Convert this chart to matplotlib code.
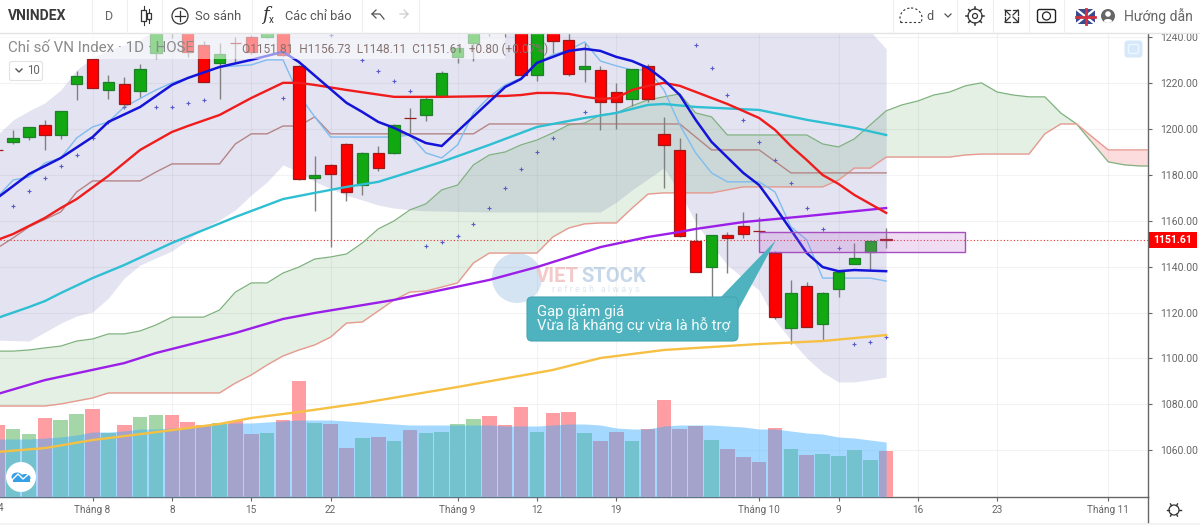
# VNINDEX daily chart with ichimoku cloud, moving averages and volume

import numpy as np
import matplotlib
matplotlib.use('Agg')
import matplotlib.pyplot as plt
from matplotlib.patches import Circle, Ellipse, FancyBboxPatch, Polygon, Rectangle

plt.rcParams['font.family'] = ['Roboto', 'DejaVu Sans']

# candles, one entry per trading day
opens = [1190.9, 1194.3, 1196.4, 1201.7, 1197.3, 1219.5, 1230.4, 1216.9, 1219.5, 1216.5,
         1233.0, 1248.0, 1243.0, 1236.5, 1228.7, 1237.5, 1240.0, 1240.0, 1243.0, 1227.4,
         1178.6, 1184.3, 1193.4, 1175.5, 1189.5, 1189.5, 1204.8, 1206.0, 1214.3, 1231.3,
         1237.4, 1247.0, 1247.0, 1246.0, 1223.5, 1245.0, 1238.7, 1226.1, 1225.6, 1216.0,
         1213.0, 1227.4, 1197.8, 1190.8, 1151.2, 1139.8, 1153.8, 1157.7, 1155.6, 1145.9,
         1113.3, 1131.6, 1115.0, 1130.3, 1141.1, 1146.4, 1151.81]
highs = [1191.0, 1199.5, 1200.8, 1203.9, 1207.8, 1225.2, 1230.4, 1223.5, 1222.6, 1228.2,
         1245.0, 1250.0, 1245.0, 1238.0, 1237.4, 1240.0, 1241.0, 1247.0, 1245.0, 1227.8,
         1188.2, 1184.5, 1193.8, 1189.9, 1192.5, 1202.1, 1209.1, 1213.9, 1225.2, 1236.5,
         1245.0, 1250.0, 1250.0, 1248.0, 1248.0, 1247.0, 1242.0, 1237.4, 1227.4, 1220.0,
         1226.1, 1228.2, 1205.2, 1196.0, 1163.4, 1153.8, 1155.1, 1163.8, 1161.6, 1146.8,
         1134.2, 1133.3, 1128.9, 1137.7, 1150.3, 1151.2, 1156.73]
lows = [1190.7, 1193.4, 1195.1, 1190.8, 1195.6, 1212.6, 1217.8, 1213.0, 1209.1, 1213.9,
        1230.4, 1239.6, 1231.3, 1220.4, 1213.0, 1229.1, 1232.5, 1239.5, 1231.5, 1177.8,
        1164.2, 1148.5, 1168.6, 1171.2, 1181.6, 1189.0, 1198.2, 1203.4, 1214.3, 1228.7,
        1229.5, 1240.5, 1240.0, 1223.5, 1220.8, 1233.0, 1223.0, 1220.4, 1199.5, 1199.9,
        1210.0, 1211.7, 1174.2, 1153.0, 1137.7, 1126.8, 1137.2, 1152.5, 1154.6, 1117.2,
        1106.3, 1113.7, 1107.6, 1126.8, 1141.1, 1138.5, 1148.11]
closes = [1190.8, 1196.0, 1200.8, 1197.3, 1207.8, 1223.0, 1217.8, 1220.4, 1210.8, 1226.1,
          1243.0, 1243.0, 1233.5, 1220.4, 1232.6, 1237.3, 1233.5, 1245.0, 1232.2, 1178.2,
          1179.9, 1180.3, 1172.5, 1189.5, 1182.9, 1201.7, 1204.6, 1213.0, 1224.3, 1235.2,
          1243.0, 1243.0, 1243.0, 1223.5, 1246.0, 1238.3, 1223.9, 1227.4, 1211.7, 1211.7,
          1226.1, 1213.0, 1193.0, 1153.3, 1137.7, 1153.8, 1152.5, 1154.2, 1155.4, 1118.0,
          1128.5, 1113.7, 1128.5, 1137.7, 1143.8, 1151.2, 1151.61]

# volume and its average, in the height units of the lower pane
volume = [72, 68, 63, 79, 77, 83, 88, 64, 72, 80, 82, 82, 75, 72, 74, 76, 63, 64, 77, 116,
          74, 73, 49, 59, 60, 56, 67, 64, 65, 73, 78, 81, 72, 90, 65, 84, 85, 64, 56, 65,
          56, 68, 97, 68, 71, 57, 48, 40, 35, 69, 48, 42, 43, 41, 47, 37, 46]
volume_ma = [58, 58, 58, 59, 60, 62, 65, 65, 66, 68, 68, 69, 70, 71, 73, 74, 74, 75, 76, 77,
             77, 77, 76, 75, 74, 73, 72, 72, 72, 72, 72, 72, 71, 71, 71, 72, 73, 73, 72, 69,
             68, 68, 71, 72, 72, 72, 71, 70, 68, 68, 66, 64, 63, 60, 59, 57, 55]

# moving averages and conversion/base lines, given at their visible vertices
blue_idx = [0, 2, 4, 6, 7, 9, 11, 12, 14, 16, 18, 19, 22, 23, 24, 25, 27, 28, 32, 33, 34, 35,
            36, 37, 38, 39, 40, 41, 42, 43, 44, 45, 47, 48, 49, 50, 51, 52, 53, 54, 56]
blue_val = [1169.9, 1180.3, 1187.3, 1196.4, 1203.0, 1209.5, 1219.1, 1222.1, 1226.9, 1230.0,
            1233.5, 1229.1, 1211.3, 1207.3, 1203.0, 1200.4, 1193.8, 1192.5, 1218.2, 1221.7,
            1228.7, 1231.3, 1233.9, 1234.8, 1233.9, 1231.3, 1229.5, 1226.5, 1221.3, 1214.7,
            1203.9, 1194.3, 1180.8, 1175.5, 1166.0, 1156.0, 1145.9, 1139.8, 1138.0, 1138.5, 1138.0]

tenkan_idx = [0, 1, 2, 3, 4, 5, 6, 7, 8, 10, 11, 12, 14, 16, 17, 18, 19, 20, 21, 25, 26, 27, 28,
              29, 30, 31, 32, 33, 34, 35, 36, 37, 38, 39, 40, 41, 42, 43, 44, 45, 46, 48, 49,
              50, 51, 52, 55, 56]
tenkan_val = [1170.3, 1177.7, 1179.0, 1185.1, 1187.3, 1196.0, 1200.8, 1203.0, 1209.5, 1216.9,
              1220.0, 1222.1, 1226.9, 1227.8, 1230.0, 1230.0, 1214.7, 1205.2, 1196.4, 1196.4,
              1197.3, 1189.5, 1187.3, 1193.0, 1206.9, 1213.9, 1219.1, 1222.1, 1228.7, 1232.2,
              1234.3, 1237.8, 1229.5, 1227.4, 1225.6, 1225.6, 1216.9, 1201.7, 1189.5, 1180.8,
              1176.9, 1176.9, 1172.5, 1157.3, 1151.6, 1135.0, 1135.0, 1133.7]

red_idx = [0, 1, 3, 4, 5, 7, 9, 11, 12, 14, 16, 18, 19, 20, 22, 25, 28, 32, 33, 34, 35, 36, 37,
           38, 39, 40, 41, 42, 43, 46, 48, 49, 50, 51, 52, 53, 54, 56]
red_val = [1151.6, 1154.2, 1161.2, 1165.5, 1169.4, 1179.5, 1190.8, 1198.6, 1201.2, 1206.0,
           1213.4, 1220.0, 1220.0, 1219.1, 1216.9, 1213.9, 1213.9, 1214.3, 1214.7, 1215.6,
           1215.6, 1215.2, 1213.9, 1213.0, 1213.4, 1216.9, 1218.7, 1220.0, 1218.7, 1210.8,
           1204.7, 1199.5, 1192.5, 1186.4, 1179.9, 1176.0, 1171.2, 1163.4]

cyan_idx = [0, 2, 3, 4, 6, 8, 11, 15, 18, 20, 22, 24, 26, 28, 31, 34, 36, 37, 39, 41, 42, 44,
            48, 51, 54, 56]
cyan_val = [1117.6, 1122.4, 1125.0, 1128.5, 1135.0, 1140.7, 1150.3, 1161.6, 1169.4, 1172.1,
            1174.7, 1176.9, 1181.2, 1185.6, 1193.0, 1200.8, 1203.4, 1204.7, 1206.9, 1210.4,
            1210.8, 1209.5, 1208.2, 1203.9, 1200.4, 1197.3]

purple_idx = [0, 3, 8, 10, 15, 18, 20, 25, 31, 34, 38, 41, 43, 44, 47, 49, 51, 56]
purple_val = [1084.5, 1090.6, 1098.0, 1102.4, 1111.1, 1117.2, 1119.8, 1125.5, 1134.2, 1139.8,
              1148.5, 1152.9, 1155.1, 1156.4, 1159.4, 1160.7, 1162.0, 1165.5]

orange_idx = [0, 3, 6, 11, 14, 16, 19, 23, 29, 35, 38, 42, 45, 48, 52, 56]
orange_val = [1059.3, 1061.0, 1064.5, 1068.8, 1071.5, 1074.1, 1076.7, 1080.6, 1087.6, 1095.0,
              1100.2, 1103.7, 1105.0, 1106.3, 1107.6, 1110.2]

kijun_idx = [0, 1, 2, 4, 5, 6, 9, 10, 11, 14, 15, 16, 17, 18, 19, 20, 21, 30, 31, 43, 45, 48, 50, 56]
kijun_val = [1148.1, 1152.5, 1157.3, 1163.8, 1172.5, 1177.3, 1177.3, 1181.2, 1184.7, 1184.7,
             1193.4, 1197.8, 1197.8, 1201.2, 1201.2, 1205.2, 1197.8, 1197.8, 1202.1, 1202.1,
             1190.8, 1190.8, 1180.8, 1180.8]

# cloud, runs past the last candle
senkou_a = [1103.2, 1103.2, 1103.7, 1104.6, 1105.4, 1107.6, 1108.5, 1110.7, 1110.7, 1112.0,
            1114.6, 1118.0, 1118.0, 1118.0, 1121.1, 1128.9, 1132.9, 1132.9, 1137.2, 1139.8,
            1143.3, 1144.2, 1145.5, 1150.3, 1156.4, 1159.9, 1164.7, 1167.3, 1173.4, 1175.5,
            1184.3, 1188.6, 1189.9, 1193.0, 1195.1, 1198.2, 1201.7, 1202.5, 1206.0, 1206.9,
            1210.0, 1212.6, 1213.9, 1215.2, 1206.9, 1205.2, 1197.3, 1197.3, 1197.3, 1197.3,
            1197.3, 1197.3, 1193.4, 1192.1, 1195.6, 1201.7, 1207.8, 1210.4, 1212.1, 1214.7,
            1216.0, 1218.7, 1220.0, 1216.0, 1214.7, 1213.9, 1213.9, 1206.9, 1202.1, 1193.8,
            1185.6, 1184.3, 1183.8, 1183.8]
senkou_b = [1079.3, 1079.3, 1079.3, 1079.3, 1080.2, 1081.5, 1082.8, 1085.0, 1085.0, 1085.0,
            1085.0, 1085.0, 1085.0, 1085.0, 1085.0, 1089.3, 1092.8, 1097.2, 1101.1, 1103.7,
            1105.9, 1109.3, 1115.4, 1115.9, 1120.7, 1125.5, 1128.9, 1129.4, 1131.1, 1132.9,
            1141.6, 1145.9, 1145.9, 1145.9, 1145.9, 1152.9, 1156.8, 1158.6, 1159.0, 1159.0,
            1165.5, 1171.6, 1172.1, 1172.1, 1172.1, 1172.1, 1173.4, 1174.7, 1174.7, 1174.7,
            1174.7, 1174.7, 1174.7, 1177.7, 1182.9, 1182.9, 1187.7, 1187.7, 1187.7, 1187.7,
            1187.7, 1188.6, 1189.0, 1189.0, 1189.0, 1189.0, 1197.8, 1202.1, 1202.1, 1196.4,
            1190.8, 1190.8, 1190.8, 1190.8]

# lavender band
band_upper = [1197.3, 1203.9, 1207.8, 1211.3, 1216.9, 1225.6, 1230.9, 1234.3, 1236.5, 1238.7,
              1243.0] + [1250.0] * 44 + [1242.5, 1234.8]
band_lower = [1108.0, 1107.8, 1107.6, 1111.5, 1115.4, 1118.5, 1120.2, 1126.3, 1135.0, 1140.7,
              1143.8, 1146.8, 1151.6, 1156.8, 1160.3, 1164.7, 1171.2, 1176.9, 1184.3, 1181.2,
              1177.0, 1174.0, 1171.0, 1169.0, 1166.8, 1165.5, 1164.7, 1164.3, 1164.2, 1164.0,
              1163.9, 1163.8, 1163.8, 1163.8, 1163.8, 1163.8, 1163.8, 1163.8, 1163.8, 1168.1,
              1173.4, 1178.2, 1183.0, 1172.1, 1159.4, 1149.4, 1140.7, 1135.0, 1129.8, 1116.8,
              1108.0, 1100.2, 1094.0, 1089.8, 1089.8, 1090.8, 1091.9]

# parabolic sar dots
sar_idx = [1, 2, 3, 4, 5, 6, 7, 8, 10, 11, 12, 13, 18, 21, 23, 24, 25, 26, 27, 28, 29, 30, 31,
           32, 33, 34, 35, 37, 44, 45, 46, 47, 48, 49, 50, 51, 52, 53, 54, 55, 56]
sar_val = [1166.4, 1172.9, 1178.6, 1183.8, 1188.6, 1196.0, 1203.0, 1209.5, 1209.5, 1209.5,
           1211.3, 1212.6, 1213.4, 1240.9, 1230.0, 1225.2, 1220.8, 1216.5, 1149.0, 1150.7,
           1153.3, 1158.6, 1165.5, 1174.2, 1182.5, 1189.9, 1196.0, 1207.3, 1236.5, 1226.5,
           1214.7, 1203.9, 1194.3, 1186.4, 1176.4, 1165.5, 1156.4, 1148.1, 1106.3, 1107.2, 1109.3]

price_ticks = [1060, 1080, 1100, 1120, 1140, 1160, 1180, 1200, 1220, 1240]
time_ticks = [6, 11, 16, 21, 29, 34, 39, 48, 53, 58, 63, 70]
time_labels = ['Tháng 8', '8', '15', '22', 'Tháng 9', '12', '19', 'Tháng 10', '9', '16', '23', 'Tháng 11']
last_price = 1151.61
gap_top = 1155.1
gap_bottom = 1146.4
gap_start = 48
gap_end = 61

W = 1200
H = 530
fig = plt.figure(figsize=(W / 100, H / 100), dpi=100)
pos = [0, 1 - 497 / H, 1148 / W, (497 - 33) / H]

# pixel-space layer under the chart for the watermark
bg = fig.add_axes([0, 0, 1, 1], zorder=0)
bg.set_xlim(0, W)
bg.set_ylim(H, 0)
bg.axis('off')
bg.add_patch(Circle((517, 278), 25, color='#c8dcee', alpha=0.75, lw=0))
bg.text(536, 277, 'VIET', color='#f4c9c9', fontsize=14.5, fontweight='bold', va='center')
bg.text(581, 277, 'STOCK', color='#c6d8ea', fontsize=14.5, fontweight='bold', va='center')
bg.text(552, 290, 'r e f r e s h   a l w a y s', color='#dfe6ef', fontsize=6.5, va='center')

x_all = np.arange(len(senkou_a))
x_bars = np.arange(len(opens))
xlim = (0.17, 72.5)
ylim = (1039.7, 1241.7)

# bottom layer: band, cloud, grid, axes
ax = fig.add_axes(pos, zorder=1)
ax.patch.set_visible(False)
ax.set_xlim(*xlim)
ax.set_ylim(*ylim)
ax.fill_between(x_bars, band_lower, band_upper, color='#e4e3f2', lw=0)
a = np.array(senkou_a)
b = np.array(senkou_b)
ax.fill_between(x_all, a, b, where=a >= b, interpolate=True, color=(81 / 255, 162 / 255, 81 / 255), alpha=0.16, lw=0)
ax.fill_between(x_all, a, b, where=a < b, interpolate=True, color=(240 / 255, 80 / 255, 80 / 255), alpha=0.2, lw=0)
ax.set_axisbelow(False)
ax.grid(True, color='#808080', alpha=0.09, lw=0.8)

# volume pane
ax_vol = ax.twinx()
ax_vol.set_zorder(2)
ax_vol.patch.set_visible(False)
ax_vol.set_ylim(0, 464)
ax_vol.axis('off')
vol_cols = ['#a5d6a7' if c >= o else '#ff9ea2' for o, c in zip(opens, closes)]
ax_vol.bar(x_bars, volume, width=0.92, color=vol_cols, lw=0)
ax_vol.fill_between(x_bars, 0, volume_ma, color=(55 / 255, 170 / 255, 1.0), alpha=0.45, lw=0)

# price layer on top of the volume
ax_p = ax.twinx()
ax_p.set_zorder(3)
ax_p.patch.set_visible(False)
ax_p.set_ylim(*ylim)
ax_p.axis('off')

# twinx moves the base ticks to the left, so set them after it
ax.yaxis.tick_right()
ax.set_yticks(price_ticks)
ax.set_yticklabels(['%.2f' % p for p in price_ticks])
ax.set_xticks(time_ticks)
ax.set_xticklabels(time_labels)
ax.tick_params(axis='y', length=3, width=0.8, color='#666666', labelcolor='#666666', labelsize=7.5, pad=6)
ax.tick_params(axis='x', length=3, width=0.8, color='#666666', labelcolor='#666666', labelsize=7.2, pad=3)
for s in ['left', 'top']:
    ax.spines[s].set_visible(False)
for s in ['right', 'bottom']:
    ax.spines[s].set_color('#666666')
    ax.spines[s].set_linewidth(1.0)

ax_p.plot(x_all, senkou_a, color='#7fb27f', lw=0.9)
ax_p.plot(x_all, senkou_b, color='#e79a90', lw=1.0)
ax_p.plot(kijun_idx, kijun_val, color='#b58585', lw=1.0)
ax_p.plot(tenkan_idx, tenkan_val, color='#7fbcf0', lw=1.0)
ax_p.plot(sar_idx, sar_val, '+', color='#5a5ac8', ms=2.8, mew=0.8)
ax_p.axhline(last_price, color='#e83030', lw=0.8, ls=(0, (1, 2)), zorder=1.5)

up = [c >= o for o, c in zip(opens, closes)]
ax_p.vlines(x_bars, lows, highs, color='#808080', lw=1.0, zorder=2.1)
ax_p.bar(x_bars, np.array(closes) - np.array(opens), bottom=opens, width=0.72, zorder=2.2,
         color=['#12a812' if u else '#ff0000' for u in up],
         edgecolor=['#1f7f2a' if u else '#9e1a1a' for u in up], lw=0.9)

ax_p.plot(orange_idx, orange_val, color='#f5c043', lw=1.7, zorder=3)
ax_p.plot(purple_idx, purple_val, color='#9b1fe8', lw=1.7, zorder=3)
ax_p.plot(cyan_idx, cyan_val, color='#2fbfd3', lw=1.7, zorder=3)
ax_p.plot(red_idx, red_val, color='#f01c1c', lw=1.7, zorder=3)
ax_p.plot(blue_idx, blue_val, color='#1414d8', lw=1.8, zorder=3)

ax_p.add_patch(Rectangle((gap_start, gap_bottom), gap_end - gap_start, gap_top - gap_bottom,
                         facecolor=(0.75, 0.4, 0.82, 0.22), edgecolor='#a650c0', lw=1.0, zorder=4))

# pixel-space layer for the toolbar and drawings
ui = fig.add_axes([0, 0, 1, 1], zorder=10)
ui.set_xlim(0, W)
ui.set_ylim(H, 0)
ui.axis('off')

# legend strip
ui.add_patch(Rectangle((0, 34), 505, 25, color='white', alpha=0.55, lw=0))
ui.text(8, 48, 'Chỉ số VN Index · 1D · HOSE', color='#8a8a8a', fontsize=10.9, va='center')
ui.text(242, 49, 'O1151.81  H1156.73  L1148.11  C1151.61  +0.80 (+0.07%)', color='#85736f', fontsize=8.6, va='center')
ui.add_patch(FancyBboxPatch((11, 63), 30, 16, boxstyle='round,pad=1.5,rounding_size=2', fc='white', ec='#e2e2e2', lw=0.8))
ui.plot([16, 19, 22], [69, 72, 69], color='#555555', lw=1)
ui.text(27, 71, '10', color='#666666', fontsize=8.3, va='center')

# toolbar
ui.add_patch(Rectangle((0, 0), W, 33, color='white', lw=0))
ui.plot([0, W], [33, 33], color='#e4e4e4', lw=1)
for sx in [92, 127, 162, 252, 362, 419, 893, 957, 993, 1029, 1064]:
    ui.plot([sx, sx], [0, 33], color='#eeeeee', lw=0.8)
ui.text(8, 16, 'VNINDEX', color='#3a3a3a', fontsize=10, fontweight='bold', va='center')
ui.text(109, 16, 'D', color='#666666', fontsize=9, va='center', ha='center')
ui.plot([144, 144], [6, 25], color='#333333', lw=0.8)
ui.add_patch(Rectangle((141, 10), 5, 11, fc='white', ec='#333333', lw=0.9, zorder=3))
ui.plot([149, 149], [9, 23], color='#333333', lw=0.8)
ui.add_patch(Rectangle((147, 13), 4, 6, fc='white', ec='#333333', lw=0.9, zorder=3))
ui.add_patch(Circle((180, 16), 8, fc='none', ec='#333333', lw=0.9))
ui.plot([175, 185], [16, 16], color='#333333', lw=0.9)
ui.plot([180, 180], [11, 21], color='#333333', lw=0.9)
ui.text(195, 16, 'So sánh', color='#555555', fontsize=9.3, va='center')
ui.text(262, 15, 'f', color='#333333', fontsize=13, style='italic', va='center', family='DejaVu Serif')
ui.text(269, 20, 'x', color='#333333', fontsize=7, va='center')
ui.text(285, 16, 'Các chỉ báo', color='#555555', fontsize=9.2, va='center')
ui.plot([384, 380, 372, 376], [19, 14, 14, 10], color='#555555', lw=0.9)
ui.plot([372, 376], [14, 18], color='#555555', lw=0.9)
ui.plot([400, 408, 404], [14, 14, 10], color='#cccccc', lw=0.9)
ui.plot([408, 404], [14, 18], color='#cccccc', lw=0.9)

ui.add_patch(Ellipse((911, 18), 22, 20, fc='none', ec='#333333', lw=0.8, ls=(0, (2, 2))))
ui.add_patch(Rectangle((898, 23), 26, 6, fc='white', ec='none', zorder=3))
ui.plot([900, 922], [22, 22], color='#333333', lw=0.8, ls=(0, (2, 2)), zorder=4)
ui.text(926, 16, 'd', color='#555555', fontsize=9, va='center')
ui.plot([945, 948, 951], [14, 17, 14], color='#555555', lw=0.9)
# gear
ui.add_patch(Circle((975, 16), 7, fc='none', ec='#333333', lw=0.9))
ui.add_patch(Circle((975, 16), 2.5, fc='none', ec='#333333', lw=0.9))
for ang in np.arange(0, 360, 45):
    ca, sa = np.cos(np.radians(ang)), np.sin(np.radians(ang))
    ui.plot([975 + 7 * ca, 975 + 9 * ca], [16 + 7 * sa, 16 + 9 * sa], color='#333333', lw=1.1)
# fullscreen arrows
for fx, fy, dx, dy in [(1005, 10, 1, 1), (1018, 10, -1, 1), (1005, 22, 1, -1), (1018, 22, -1, -1)]:
    ui.plot([fx + 5 * dx, fx, fx], [fy, fy, fy + 5 * dy], color='#333333', lw=0.9)
    ui.plot([fx, fx + 5 * dx], [fy, fy + 5 * dy], color='#333333', lw=0.9)
# camera
ui.add_patch(FancyBboxPatch((1038, 10), 17, 12, boxstyle='round,pad=0.5,rounding_size=2', fc='none', ec='#222222', lw=1))
ui.add_patch(Circle((1046.5, 16), 4, fc='none', ec='#222222', lw=0.9))
# flag and user
ui.add_patch(Rectangle((1076, 9), 19, 15, color='#3b4a8c', lw=0))
ui.plot([1076, 1095], [9, 24], color='white', lw=1.6)
ui.plot([1076, 1095], [24, 9], color='white', lw=1.6)
ui.plot([1085.5, 1085.5], [9, 24], color='#d03040', lw=2)
ui.plot([1076, 1095], [16.5, 16.5], color='#d03040', lw=2)
ui.add_patch(Circle((1108, 16), 7, fc='#666666', lw=0))
ui.add_patch(Circle((1108, 14), 2.8, fc='white', lw=0))
ui.add_patch(Ellipse((1108, 21), 8, 4, fc='white', lw=0))
ui.text(1124, 16, 'Hướng dẫn', color='#666666', fontsize=10.1, va='center')

# small button top right
ui.add_patch(FancyBboxPatch((1126, 42), 15, 14, boxstyle='round,pad=1.5,rounding_size=3', fc='#d6e9fb', ec='none'))
ui.add_patch(FancyBboxPatch((1129, 45), 9, 8, boxstyle='round,pad=0.5,rounding_size=2', fc='none', ec='#eef6fe', lw=1))

# last price tag
ui.add_patch(Rectangle((1149, 232), 48, 15.5, color='#ff0000', lw=0))
ui.text(1173, 239.8, '1151.61', color='white', fontsize=7.5, fontweight='bold', ha='center', va='center')

# callout
ui.add_patch(Polygon([(720, 298), (776, 240), (738, 310)], closed=True, color='#4fb3bf', lw=0))
ui.add_patch(FancyBboxPatch((531, 301), 203, 36, boxstyle='round,pad=4,rounding_size=5', fc='#4fb3bf', ec='#44a5b2', lw=0.8))
ui.text(537, 318.5, 'Gap giảm giá\nVừa là kháng cự vừa là hỗ trợ', color='#f4fbfc', fontsize=10.7,
        va='center', linespacing=0.9)

# logo bottom left
ui.add_patch(Circle((21, 477), 15, fc='white', lw=0))
ui.add_patch(Ellipse((17, 477), 11, 9, fc='#36a0e6', lw=0))
ui.add_patch(Ellipse((25, 478), 11, 8, fc='#36a0e6', lw=0))
ui.add_patch(Rectangle((13, 478), 17, 4, color='#36a0e6', lw=0))
ui.plot([12, 18, 23, 30], [480, 474, 479, 473], color='white', lw=1)

# bottom strip
ui.text(1, 508, '4', color='#666666', fontsize=7.2, va='center', ha='center')
ui.plot([1148, 1148], [497, 522], color='#666666', lw=1.0)
ui.add_patch(Rectangle((0, 523), W, 2, color='#f3f3f3', lw=0))
ui.add_patch(Circle((1174, 510), 5, fc='none', ec='#333333', lw=0.9))
for ang in np.arange(0, 360, 60):
    ca, sa = np.cos(np.radians(ang)), np.sin(np.radians(ang))
    ui.plot([1174 + 5 * ca, 1174 + 7 * ca], [510 + 5 * sa, 510 + 7 * sa], color='#333333', lw=1)

fig.savefig('out.png', dpi=100)
